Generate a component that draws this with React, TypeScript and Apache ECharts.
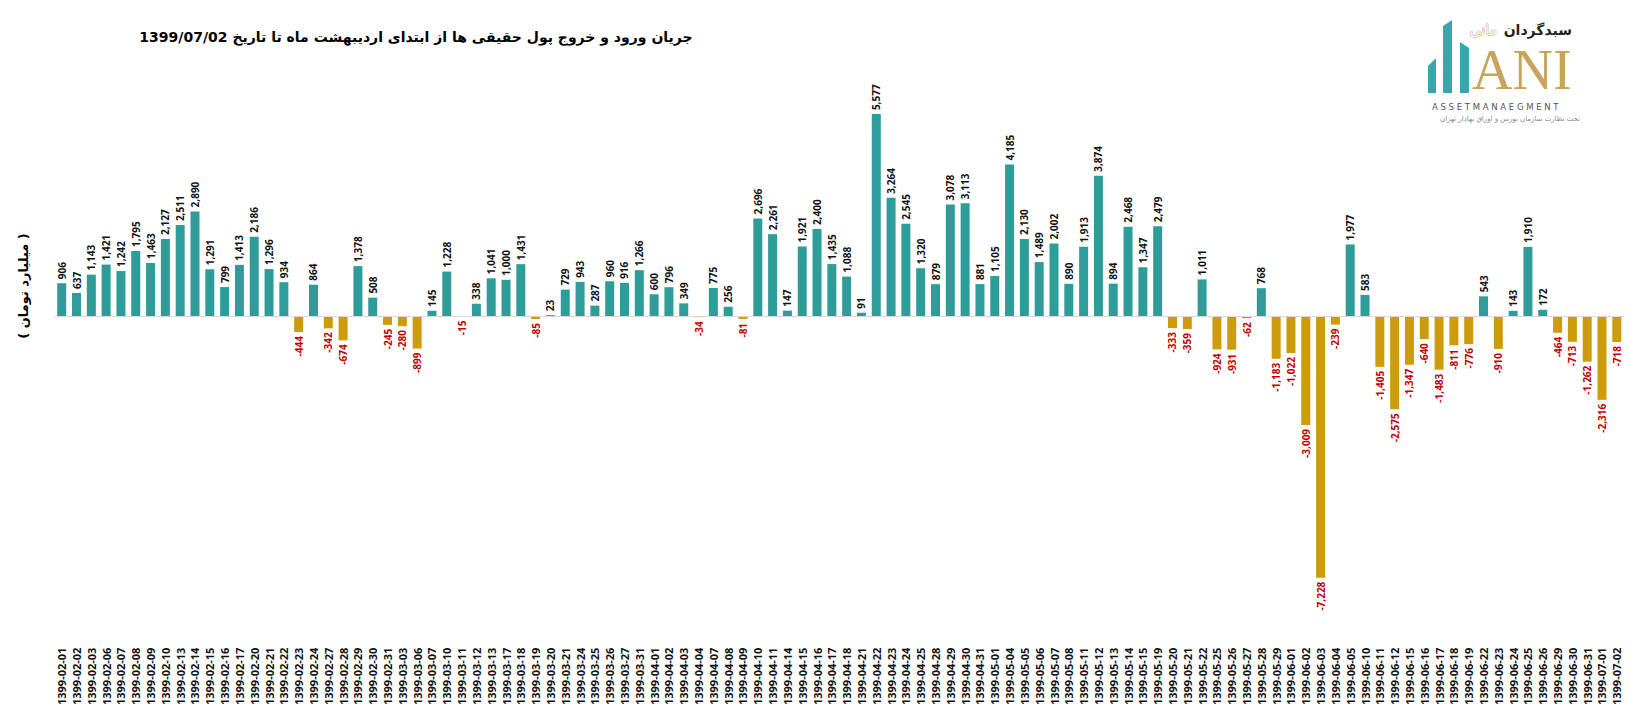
import React, { useEffect, useRef } from "react";
import * as echarts from "echarts";

const dates = [
  "1399-02-01", "1399-02-02", "1399-02-03", "1399-02-06", "1399-02-07", "1399-02-08", "1399-02-09", "1399-02-10",
  "1399-02-13", "1399-02-14", "1399-02-15", "1399-02-16", "1399-02-17", "1399-02-20", "1399-02-21", "1399-02-22",
  "1399-02-23", "1399-02-24", "1399-02-27", "1399-02-28", "1399-02-29", "1399-02-30", "1399-02-31", "1399-03-03",
  "1399-03-06", "1399-03-07", "1399-03-10", "1399-03-11", "1399-03-12", "1399-03-13", "1399-03-17", "1399-03-18",
  "1399-03-19", "1399-03-20", "1399-03-21", "1399-03-24", "1399-03-25", "1399-03-26", "1399-03-27", "1399-03-31",
  "1399-04-01", "1399-04-02", "1399-04-03", "1399-04-04", "1399-04-07", "1399-04-08", "1399-04-09", "1399-04-10",
  "1399-04-11", "1399-04-14", "1399-04-15", "1399-04-16", "1399-04-17", "1399-04-18", "1399-04-21", "1399-04-22",
  "1399-04-23", "1399-04-24", "1399-04-25", "1399-04-28", "1399-04-29", "1399-04-30", "1399-04-31", "1399-05-01",
  "1399-05-04", "1399-05-05", "1399-05-06", "1399-05-07", "1399-05-08", "1399-05-11", "1399-05-12", "1399-05-13",
  "1399-05-14", "1399-05-15", "1399-05-19", "1399-05-20", "1399-05-21", "1399-05-22", "1399-05-25", "1399-05-26",
  "1399-05-27", "1399-05-28", "1399-05-29", "1399-06-01", "1399-06-02", "1399-06-03", "1399-06-04", "1399-06-05",
  "1399-06-10", "1399-06-11", "1399-06-12", "1399-06-15", "1399-06-16", "1399-06-17", "1399-06-18", "1399-06-19",
  "1399-06-22", "1399-06-23", "1399-06-24", "1399-06-25", "1399-06-26", "1399-06-29", "1399-06-30", "1399-06-31",
  "1399-07-01", "1399-07-02",
];

const flows = [
  906, 637, 1143, 1421, 1242, 1795, 1463, 2127,
  2511, 2890, 1291, 799, 1413, 2186, 1296, 934,
  -444, 864, -342, -674, 1378, 508, -245, -280,
  -899, 145, 1228, -15, 338, 1041, 1000, 1431,
  -85, 23, 729, 943, 287, 960, 916, 1266,
  600, 796, 349, -34, 775, 256, -81, 2696,
  2261, 147, 1921, 2400, 1435, 1088, 91, 5577,
  3264, 2545, 1320, 879, 3078, 3113, 881, 1105,
  4185, 2130, 1489, 2002, 890, 1913, 3874, 894,
  2468, 1347, 2479, -333, -359, 1011, -924, -931,
  -62, 768, -1183, -1022, -3009, -7228, -239, 1977,
  583, -1405, -2575, -1347, -640, -1483, -811, -776,
  543, -910, 143, 1910, 172, -464, -713, -1262,
  -2316, -718,
];

const titleText = "جریان ورود و خروج پول حقیقی ها از ابتدای اردیبهشت ماه تا تاریخ 1399/07/02";
const unitText = "( میلیارد تومان )";

const POS_COLOR = "#2e9c99";
const NEG_COLOR = "#cc9c0c";
const POS_LABEL = "#111111";
const NEG_LABEL = "#c00000";
const LOGO_TEAL = "#3aa5ad";
const LOGO_GOLD = "#c9a35c";

export default function App() {
  const ref = useRef<HTMLDivElement>(null);

  useEffect(() => {
    if (!ref.current) return;
    const chart = echarts.init(ref.current, undefined, { renderer: "svg" });

    const fmt = (v: number) => v.toLocaleString("en-US");

    const data = flows.map((v) => ({
      value: v,
      itemStyle: { color: v >= 0 ? POS_COLOR : NEG_COLOR },
      label:
        v >= 0
          ? { position: "top", align: "left", verticalAlign: "middle", color: POS_LABEL }
          : { position: "bottom", align: "right", verticalAlign: "middle", color: NEG_LABEL },
    }));

    chart.setOption({
      animation: false,
      backgroundColor: "#ffffff",
      grid: { left: 54.3, right: 5.8, top: 98.8, bottom: 111.4, containLabel: false },
      xAxis: {
        type: "category",
        data: dates,
        axisLine: { show: false, onZero: false },
        axisTick: { show: false },
        axisLabel: {
          interval: 0,
          rotate: 90,
          margin: 42,
          fontSize: 11,
          fontWeight: "bold",
          fontFamily: "Open Sans",
          color: "#111111",
        },
      },
      yAxis: {
        type: "value",
        min: -8000,
        max: 6000,
        show: false,
        splitLine: { show: false },
      },
      series: [
        {
          type: "bar",
          data,
          barWidth: 9,
          label: {
            show: true,
            rotate: 90,
            distance: 4,
            fontSize: 10,
            fontWeight: "bold",
            fontFamily: "Open Sans",
            formatter: (p: any) => fmt(p.value),
          },
          markLine: {
            silent: true,
            symbol: "none",
            label: { show: false },
            lineStyle: { color: "#d9d9d9", width: 1, type: "solid" },
            data: [{ yAxis: 0 }],
          },
        },
      ],
      graphic: [
        {
          type: "text",
          x: 416,
          y: 37,
          style: {
            text: titleText,
            fontFamily: "DejaVu Sans",
            fontWeight: "bold",
            fontSize: 14,
            fill: "#000000",
            align: "center",
            verticalAlign: "middle",
          },
        },
        {
          type: "text",
          x: 23,
          y: 286,
          rotation: Math.PI / 2,
          style: {
            text: unitText,
            fontFamily: "DejaVu Sans",
            fontWeight: "bold",
            fontSize: 13,
            fill: "#000000",
            align: "center",
            verticalAlign: "middle",
          },
        },
        // logo
        {
          type: "polygon",
          shape: { points: [[1428, 66], [1436, 58], [1436, 93], [1428, 93]] },
          style: { fill: LOGO_TEAL },
        },
        {
          type: "polygon",
          shape: { points: [[1443, 26], [1452, 20], [1452, 93], [1443, 93]] },
          style: { fill: LOGO_TEAL },
        },
        {
          type: "polygon",
          shape: { points: [[1460, 42], [1469, 48], [1469, 93], [1460, 93]] },
          style: { fill: LOGO_TEAL },
        },
        {
          type: "text",
          x: 1472,
          y: 70,
          style: {
            text: "ANI",
            fontFamily: "Liberation Serif",
            fontSize: 56,
            fill: LOGO_GOLD,
            align: "left",
            verticalAlign: "middle",
          },
        },
        {
          type: "text",
          x: 1572,
          y: 30,
          style: {
            text: "سبدگردان",
            fontFamily: "DejaVu Sans",
            fontWeight: "bold",
            fontSize: 14,
            fill: "#222222",
            align: "right",
            verticalAlign: "middle",
          },
        },
        {
          type: "text",
          x: 1497,
          y: 30,
          style: {
            text: "مانی",
            fontFamily: "DejaVu Sans",
            fontSize: 14,
            fill: "#ffffff",
            stroke: LOGO_GOLD,
            lineWidth: 1,
            align: "right",
            verticalAlign: "middle",
          },
        },
        {
          type: "text",
          x: 1432,
          y: 107,
          style: {
            text: "A S S E T M A N A E G M E N T",
            fontFamily: "DejaVu Sans",
            fontSize: 8.5,
            fill: "#555555",
            align: "left",
            verticalAlign: "middle",
          },
        },
        {
          type: "text",
          x: 1580,
          y: 119,
          style: {
            text: "تحت نظارت سازمان بورس و اوراق بهادار تهران",
            fontFamily: "DejaVu Sans",
            fontSize: 7,
            fill: "#888888",
            align: "right",
            verticalAlign: "middle",
          },
        },
      ],
    });

    return () => chart.dispose();
  }, []);

  return (
    <div
      ref={ref}
      style={{ position: "absolute", left: 0, top: 0, width: 1630, height: 717, background: "#fff" }}
    />
  );
}
